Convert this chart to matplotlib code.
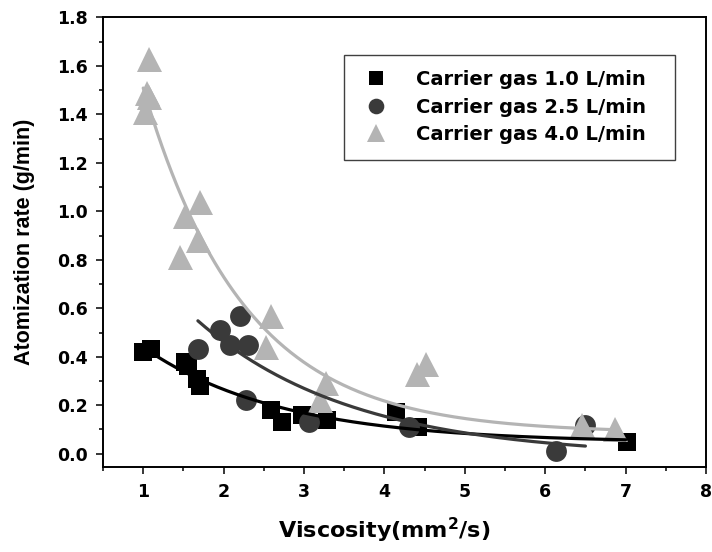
import numpy as np
import matplotlib
matplotlib.use("Agg")
import matplotlib.pyplot as plt
from matplotlib.ticker import MultipleLocator
from matplotlib.patches import Rectangle

# ---- data ----
labels = ["Carrier gas 1.0 L/min", "Carrier gas 2.5 L/min", "Carrier gas 4.0 L/min"]

x_10 = [1.00, 1.10, 1.52, 1.56, 1.67, 1.70, 2.59, 2.73, 2.98, 3.29, 4.15, 4.42, 7.02]
y_10 = [0.42, 0.43, 0.38, 0.36, 0.31, 0.28, 0.18, 0.13, 0.16, 0.14, 0.17, 0.11, 0.05]

x_25 = [1.68, 1.95, 2.08, 2.20, 2.30, 2.28, 3.06, 4.30, 6.13, 6.49]
y_25 = [0.43, 0.51, 0.45, 0.57, 0.45, 0.22, 0.13, 0.11, 0.01, 0.12]

x_40 = [1.02, 1.05, 1.07, 1.07, 1.46, 1.52, 1.68, 1.70, 2.53, 2.59, 3.20, 3.27, 4.40, 4.52, 6.46, 6.87]
y_40 = [1.41, 1.49, 1.47, 1.63, 0.81, 0.98, 0.88, 1.04, 0.44, 0.57, 0.22, 0.29, 0.33, 0.37, 0.12, 0.10]

# samples read along the fitted (exponential decay) curves of the reference
fx_10 = [1.00, 1.17, 1.79, 2.41, 3.23, 4.30, 6.32, 7.00]
fy_10 = [0.43, 0.41, 0.30, 0.216, 0.148, 0.100, 0.067, 0.057]

fx_25 = [1.68, 2.32, 2.82, 4.30, 5.41, 6.50]
fy_25 = [0.545, 0.40, 0.29, 0.127, 0.071, 0.030]

fx_40 = [1.00, 1.13, 1.50, 1.95, 2.16, 2.53, 3.27, 4.18, 5.00, 6.46, 6.90]
fy_40 = [1.53, 1.35, 1.02, 0.77, 0.66, 0.53, 0.30, 0.19, 0.15, 0.107, 0.10]

colors = ["#000000", "#3a3a3a", "#b4b4b4"]
markers = ["s", "o", "^"]
msizes = [13.5, 15, 18]


def fit_exp(x, y):
    """Least-squares fit of y = y0 + a*exp(-x/t) (grid search over t)."""
    x = np.asarray(x, float)
    y = np.asarray(y, float)
    best = None
    for t in np.linspace(0.2, 8, 1500):
        A = np.column_stack([np.exp(-x / t), np.ones_like(x)])
        coef, *_ = np.linalg.lstsq(A, y, rcond=None)
        sse = np.sum((A @ coef - y) ** 2)
        if best is None or sse < best[0]:
            best = (sse, t, coef)
    _, t, (a, y0) = best
    return lambda xx: y0 + a * np.exp(-xx / t)


fig = plt.figure(figsize=(7.12, 5.52), dpi=100)
ax = fig.add_axes([0.1447, 0.154, 0.8469, 0.8143])

tfont = "DejaVu Sans"
series = [(x_10, y_10), (x_25, y_25), (x_40, y_40)]
fits = [(fx_10, fy_10), (fx_25, fy_25), (fx_40, fy_40)]
handles = []
for (xs, ys), c, m, ms, lab in zip(series, colors, markers, msizes, labels):
    h, = ax.plot(xs, ys, linestyle="none", marker=m, markersize=ms,
                 color=c, markeredgewidth=0, label=lab, zorder=3)
    handles.append(h)

for (xs, ys), c in zip(fits, colors):
    f = fit_exp(xs, ys)
    xx = np.linspace(min(xs), max(xs), 300)
    ax.plot(xx, f(xx), color=c, linewidth=2.3, zorder=4, solid_capstyle="round")

ax.set_xlim(0.5, 8)
ax.set_ylim(-0.055, 1.8)
ax.xaxis.set_minor_locator(MultipleLocator(0.5))
ax.yaxis.set_minor_locator(MultipleLocator(0.1))
xt = list(range(1, 9))
yt = [0.0, 0.2, 0.4, 0.6, 0.8, 1.0, 1.2, 1.4, 1.6, 1.8]
ax.set_xticks(xt)
ax.set_yticks(yt)
ax.set_xticklabels([str(v) for v in xt])
ax.set_yticklabels([f"{v:.1f}" for v in yt])

ax.tick_params(which="major", direction="out", length=5.2, width=1.1,
               top=False, right=False, labelsize=12.5)
ax.tick_params(axis="y", which="major", pad=6)
ax.tick_params(axis="x", which="major", pad=6)
ax.tick_params(which="minor", direction="out", length=3, width=1.1,
               top=False, right=False)
for lbl in ax.get_xticklabels() + ax.get_yticklabels():
    lbl.set_fontfamily(tfont)
    lbl.set_fontweight("bold")
for sp in ax.spines.values():
    sp.set_linewidth(1.4)

ax.set_xlabel("Viscosity(mm$^\\mathbf{2}$/s)", fontsize=16, fontweight="bold",
              family=tfont)
ax.xaxis.set_label_coords(0.466, -0.108)
ax.set_ylabel("Atomization rate (g/min)", fontsize=15.5, fontweight="bold",
              family="Liberation Sans")
ax.yaxis.set_label_coords(-0.113, 0.5)

# legend frame
ax.add_patch(Rectangle((0.400, 0.683), 0.5488, 0.2336, transform=ax.transAxes,
                       fill=True, facecolor="white", edgecolor="#404040",
                       linewidth=1.0, zorder=5))
leg = ax.legend(handles=handles, loc="upper left", bbox_to_anchor=(0.4369, 0.883),
                frameon=False,
                prop={"family": tfont, "weight": "bold", "size": 14},
                handlelength=1.0, handletextpad=1.556, borderpad=0,
                labelspacing=0.44, borderaxespad=0, markerscale=0.75)
leg.set_zorder(6)

fig.savefig("out.png", dpi=100)
